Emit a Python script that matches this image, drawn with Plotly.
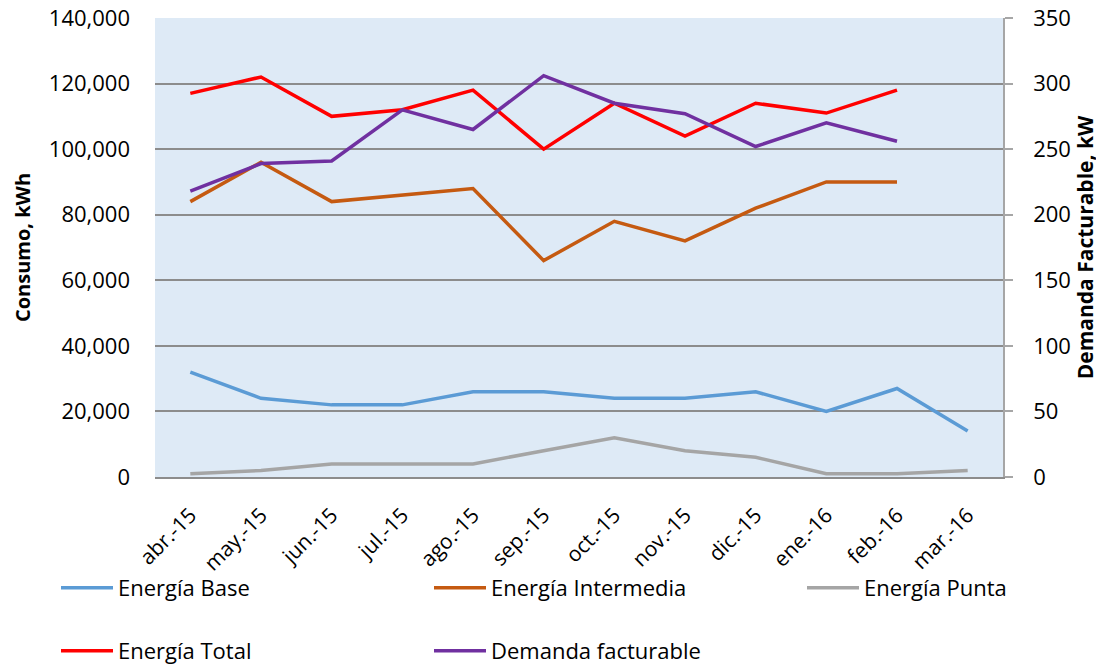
import plotly.graph_objects as go

months = ["abr.-15", "may.-15", "jun.-15", "jul.-15", "ago.-15", "sep.-15",
          "oct.-15", "nov.-15", "dic.-15", "ene.-16", "feb.-16", "mar.-16"]
energia_base = [32000, 24000, 22000, 22000, 26000, 26000, 24000, 24000, 26000, 20000, 27000, 14000]
energia_intermedia = [84000, 96000, 84000, 86000, 88000, 66000, 78000, 72000, 82000, 90000, 90000, None]
energia_punta = [1000, 2000, 4000, 4000, 4000, 8000, 12000, 8000, 6000, 1000, 1000, 2000]
energia_total = [117000, 122000, 110000, 112000, 118000, 100000, 114000, 104000, 114000, 111000, 118000, None]
demanda_facturable = [218, 239, 241, 280, 265, 306, 285, 277, 252, 270, 256, None]

FONT = "Open Sans"
fig = go.Figure()

# page body has an 8px margin: figure is drawn at (8, 8)
OFF = 8
W, H = 1104 - OFF, 666 - OFF
L, T = 155 - OFF, 18 - OFF
pw, ph = 848, 459
R = W - L - pw
B = H - T - ph

def py(pix):
    return (T + ph - (pix - OFF)) / ph

def px(pix):
    return (pix - OFF - L) / pw

# legend placement (screen pixels of legend box left / row centre)
legend_pos = {
    "legend": (56, 588), "legend2": (429, 588), "legend3": (802, 588),
    "legend4": (56, 651), "legend5": (429, 651),
}

def add(y, name, color, legend, axis="y"):
    fig.add_trace(go.Scatter(x=months, y=y, name=name, mode="lines",
                             line=dict(color=color, width=3.5),
                             yaxis=axis, legend=legend, connectgaps=False,
                             showlegend=True))

add(energia_base, "Energía Base", "#5B9BD5", "legend")
add(energia_intermedia, "Energía Intermedia", "#C55A11", "legend2")
add(energia_punta, "Energía Punta", "#A5A5A5", "legend3")
add(energia_total, "Energía Total", "#FF0000", "legend4")
add(demanda_facturable, "Demanda facturable", "#7030A0", "legend5", axis="y2")

GRID = "#8C8C8C"
layout_legends = {}
for key, (lx, ly) in legend_pos.items():
    layout_legends[key] = dict(orientation="h", x=px(lx), xanchor="left",
                               y=py(ly), yanchor="middle",
                               font=dict(size=22), bgcolor="rgba(0,0,0,0)",
                               itemwidth=52, visible=True)

fig.update_layout(
    width=W, height=H, showlegend=True,
    margin=dict(l=L, r=R, t=T, b=B, autoexpand=False),
    paper_bgcolor="white",
    plot_bgcolor="#DEEAF6",
    font=dict(family=FONT, size=22, color="black"),
    xaxis=dict(type="category", tickangle=-45, showgrid=False, ticks="",
               showline=True, linecolor=GRID, linewidth=1.5,
               range=[-0.5, 11.5], tickfont=dict(size=21), automargin=False,
               ticklabelstandoff=16, ticklabeloverflow="allow"),
    yaxis=dict(range=[0, 140000], dtick=20000, tickformat=",", showgrid=True,
               gridcolor=GRID, gridwidth=1.5, zeroline=False,
               showline=False, ticks="", automargin=False,
               ticklabelstandoff=24, ticklabeloverflow="allow",
               title=dict(text="<b>Consumo, kWh</b>", font=dict(size=20), standoff=12),
               tickfont=dict(size=22)),
    yaxis2=dict(range=[0, 350], dtick=50, overlaying="y", side="right",
                showgrid=False, zeroline=False, showline=True, linecolor="#A6A6A6",
                linewidth=1.5, ticks="outside", ticklen=8, tickcolor="#A6A6A6",
                tickwidth=1.5, automargin=False, ticklabelstandoff=16,
                ticklabeloverflow="allow",
                title=dict(text="<b>Demanda Facturable, kW</b>", font=dict(size=21), standoff=8),
                tickfont=dict(size=22)),
    **layout_legends,
)

fig.write_html("out.html")
